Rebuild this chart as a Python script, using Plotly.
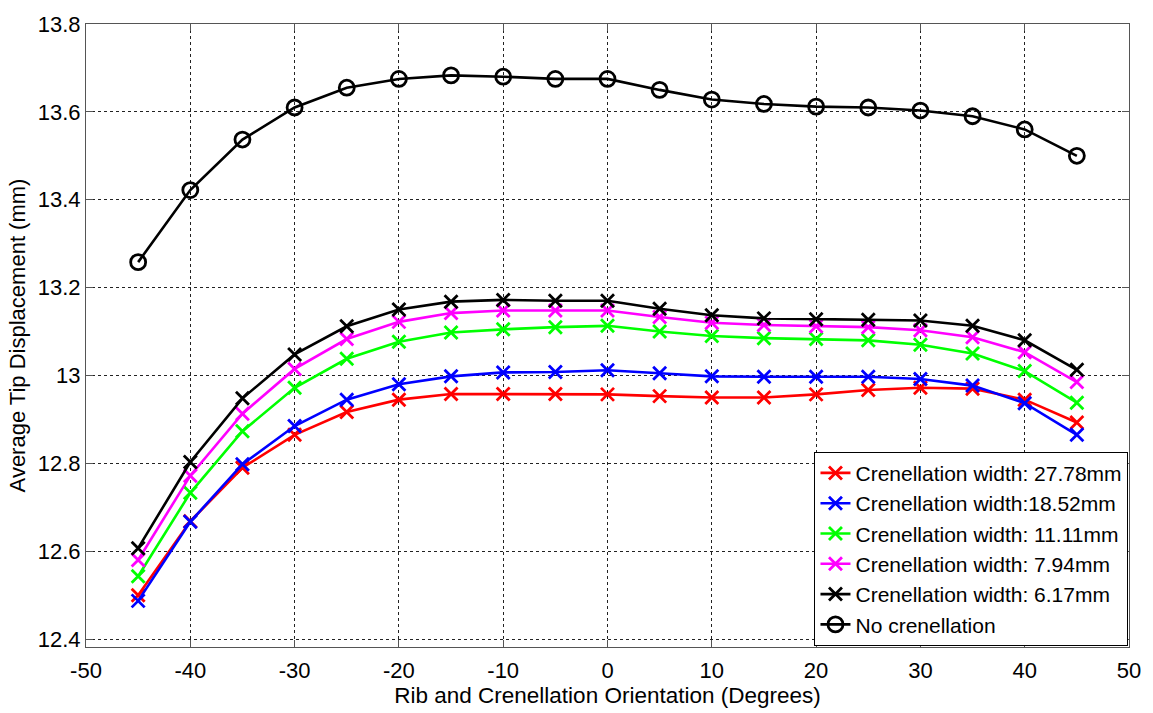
import plotly.graph_objects as go

# Orientation angles (degrees)
angles = [-45, -40, -35, -30, -25, -20, -15, -10, -5, 0, 5, 10, 15, 20, 25, 30, 35, 40, 45]

# Average tip displacement (mm) for each crenellation width
w_27_78 = [12.500, 12.668, 12.790, 12.865, 12.917, 12.945, 12.958, 12.958, 12.958, 12.957,
           12.953, 12.950, 12.950, 12.957, 12.967, 12.972, 12.970, 12.945, 12.893]
w_18_52 = [12.487, 12.667, 12.798, 12.885, 12.945, 12.980, 12.998, 13.007, 13.008, 13.012,
           13.005, 12.998, 12.997, 12.997, 12.997, 12.992, 12.977, 12.937, 12.865]
w_11_11 = [12.543, 12.733, 12.873, 12.972, 13.038, 13.077, 13.098, 13.105, 13.110, 13.113,
           13.100, 13.090, 13.085, 13.083, 13.080, 13.070, 13.050, 13.010, 12.938]
w_7_94 = [12.580, 12.772, 12.913, 13.015, 13.083, 13.122, 13.142, 13.148, 13.148, 13.148,
          13.133, 13.120, 13.115, 13.112, 13.110, 13.103, 13.087, 13.053, 12.985]
w_6_17 = [12.607, 12.803, 12.948, 13.048, 13.112, 13.150, 13.168, 13.172, 13.170, 13.170,
          13.152, 13.137, 13.130, 13.128, 13.127, 13.125, 13.113, 13.080, 13.013]
no_cren = [13.258, 13.422, 13.537, 13.610, 13.655, 13.675, 13.683, 13.680, 13.675, 13.675,
           13.650, 13.628, 13.618, 13.612, 13.610, 13.603, 13.590, 13.560, 13.500]

# Tick positions and labels (plain hyphen for negatives)
x_ticks = [-50, -40, -30, -20, -10, 0, 10, 20, 30, 40, 50]
x_tick_text = ["-50", "-40", "-30", "-20", "-10", "0", "10", "20", "30", "40", "50"]
y_ticks = [12.4, 12.6, 12.8, 13.0, 13.2, 13.4, 13.6, 13.8]
y_tick_text = ["12.4", "12.6", "12.8", "13", "13.2", "13.4", "13.6", "13.8"]

series = [
    ("Crenellation width: 27.78mm", w_27_78, "#ff0000", "x-thin-open"),
    ("Crenellation width:18.52mm", w_18_52, "#0000ff", "x-thin-open"),
    ("Crenellation width: 11.11mm", w_11_11, "#00ff00", "x-thin-open"),
    ("Crenellation width: 7.94mm", w_7_94, "#ff00ff", "x-thin-open"),
    ("Crenellation width: 6.17mm", w_6_17, "#000000", "x-thin-open"),
    ("No crenellation", no_cren, "#000000", "circle-open"),
]

fig = go.Figure()
for name, vals, color, sym in series:
    fig.add_trace(go.Scatter(
        x=angles, y=vals, name=name, mode="lines+markers",
        line=dict(color=color, width=2.6),
        marker=dict(symbol=sym, size=13 if sym != "circle-open" else 15,
                    color=color, line=dict(color=color, width=2.8)),
    ))

font = "Arial, Liberation Sans, sans-serif"
axis_common = dict(
    showline=True, linecolor="#555555", linewidth=1, mirror="ticks",
    ticks="inside", ticklen=7, tickcolor="#555555",
    showgrid=True, gridcolor="#222222", griddash="dot", gridwidth=1,
    zeroline=False, tickfont=dict(family=font, size=22, color="black"),
)

fig.update_layout(
    width=1153, height=713,
    margin=dict(l=86, r=20, t=19, b=59),
    paper_bgcolor="white", plot_bgcolor="white",
    font=dict(family=font, color="black"),
    xaxis=dict(range=[-50, 50], tickvals=x_ticks, ticktext=x_tick_text,
               ticklabelstandoff=4,
               title=dict(text="Rib and Crenellation Orientation (Degrees)",
                          font=dict(family=font, size=22.5), standoff=2),
               **axis_common),
    yaxis=dict(range=[12.382, 13.8], tickvals=y_ticks, ticktext=y_tick_text,
               ticklabelstandoff=0,
               title=dict(text="Average Tip Displacement (mm)",
                          font=dict(family=font, size=22), standoff=6),
               **axis_common),
    legend=dict(x=0.9995, y=0.002, xanchor="right", yanchor="bottom",
                bgcolor="white", bordercolor="#000000", borderwidth=1,
                font=dict(family=font, size=21), tracegroupgap=0,
                itemwidth=30),
    showlegend=True,
)

fig.write_html("out.html")
